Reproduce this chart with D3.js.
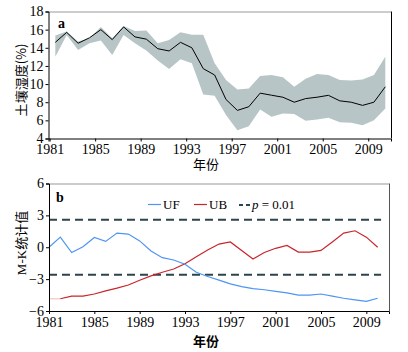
<!DOCTYPE html>
<html>
<head>
<meta charset="utf-8">
<script src="https://cdn.jsdelivr.net/npm/d3@7"></script>
<style>
  body { margin: 0; background: #fff; }
  svg { display: block; }
</style>
</head>
<body>
<svg id="chart" width="408" height="352" font-family="'Liberation Serif', 'Times New Roman', serif"></svg>
<script>
var serif = "'Liberation Serif', 'Times New Roman', serif";

// panel a: soil moisture (%), yearly mean and range
var years = d3.range(1981, 2011);
var moisture = [14.6, 15.7, 14.5, 15.1, 16.0, 14.9, 16.3, 15.2, 14.95, 13.9,
  13.65, 14.6, 14.0, 11.7, 11.0, 8.3, 7.1, 7.5, 9.0, 8.77,
  8.55, 8.0, 8.4, 8.55, 8.76, 8.15, 8.0, 7.65, 8.0, 9.7];
var upper = [15.35, 15.8, 14.7, 15.05, 16.3, 15.05, 16.4, 15.85, 15.9, 14.5,
  14.87, 15.7, 15.45, 15.45, 12.3, 10.45, 9.4, 9.5, 10.9, 11.0,
  10.75, 9.7, 10.6, 11.1, 11.0, 10.45, 10.4, 10.5, 11.0, 13.0];
var lower = [13.0, 15.4, 13.75, 14.5, 14.8, 13.2, 15.4, 14.5, 13.7, 12.6,
  11.65, 12.75, 12.3, 8.85, 8.7, 6.6, 4.9, 5.35, 7.2, 6.4,
  6.75, 6.7, 5.95, 6.1, 6.3, 5.8, 5.75, 5.45, 6.0, 7.3];

// panel b: Mann-Kendall statistics
var ufValues = [0, 0.95, -0.5, 0.05, 0.92, 0.55, 1.33, 1.24, 0.6, -0.35,
  -0.98, -1.2, -1.6, -2.35, -2.75, -3.1, -3.45, -3.7, -3.9, -4.0,
  -4.15, -4.3, -4.5, -4.5, -4.4, -4.6, -4.8, -4.95, -5.1, -4.8];
var ubValues = [-4.85, -4.85, -4.6, -4.6, -4.4, -4.1, -3.85, -3.55, -3.1, -2.7,
  -2.35, -2.05, -1.55, -0.9, -0.25, 0.3, 0.5, -0.3, -1.1, -0.5,
  -0.1, 0.17, -0.45, -0.45, -0.3, 0.5, 1.33, 1.55, 0.95, 0];
var critical = 2.58;

var xTicks = [1981, 1985, 1989, 1993, 1997, 2001, 2005, 2009];
var moistureTicks = [4, 6, 8, 10, 12, 14, 16, 18];
var mkTicks = [-6, -3, 0, 3, 6];

var svg = d3.select('#chart');

function frame(x, y, rightColor) {
  svg.append('line')
    .attr('x1', x.range()[0]).attr('x2', x.range()[1])
    .attr('y1', y.range()[1] + 0.5).attr('y2', y.range()[1] + 0.5)
    .attr('stroke', '#999');
  svg.append('line')
    .attr('x1', x.range()[1] + 0.5).attr('x2', x.range()[1] + 0.5)
    .attr('y1', y.range()[1]).attr('y2', y.range()[0])
    .attr('stroke', rightColor);
}

function axes(x, y, yticks) {
  svg.append('g')
    .attr('transform', 'translate(0,' + y.range()[0] + ')')
    .call(d3.axisBottom(x).tickValues(xTicks).tickFormat(d3.format('d')).tickSizeOuter(0).tickSize(3).tickPadding(3))
    .attr('font-family', serif).attr('font-size', 14);
  svg.append('g')
    .attr('transform', 'translate(' + x.range()[0] + ',0)')
    .call(d3.axisLeft(y).tickValues(yticks).tickSizeOuter(0).tickSize(3).tickPadding(2))
    .attr('font-family', serif).attr('font-size', 14);
}

// ---- panel a
var xa = d3.scaleLinear().domain([1980.9, 2011]).range([48.5, 391]);
var ya = d3.scaleLinear().domain([4, 18]).range([138.5, 11.5]);

svg.append('path')
  .datum(years)
  .attr('fill', '#b7c5c6')
  .attr('d', d3.area()
    .x(function (d) { return xa(d + 0.5); })
    .y0(function (d, i) { return ya(lower[i]); })
    .y1(function (d, i) { return ya(upper[i]); }));

svg.append('path')
  .datum(years)
  .attr('fill', 'none')
  .attr('stroke', '#000')
  .attr('stroke-width', 1)
  .attr('d', d3.line()
    .x(function (d) { return xa(d + 0.5); })
    .y(function (d, i) { return ya(moisture[i]); }));

frame(xa, ya, '#000');
axes(xa, ya, moistureTicks);

svg.append('text').attr('x', 58).attr('y', 28)
  .attr('font-size', 14).attr('font-weight', 'bold').text('a');

svg.append('text')
  .attr('transform', 'translate(26,80) rotate(-90)')
  .attr('text-anchor', 'middle')
  .attr('font-size', 13)
  .attr('font-family', "'Noto Sans CJK SC', 'Liberation Serif', serif")
  .text('土壤湿度(%)');

svg.append('text').attr('x', 206).attr('y', 169)
  .attr('text-anchor', 'middle').attr('font-size', 13)
  .attr('font-family', "'Noto Sans CJK SC', serif")
  .text('年份');

// ---- panel b
var xb = d3.scaleLinear().domain([1981, 2011]).range([49, 389]);
var yb = d3.scaleLinear().domain([-6, 6]).range([311, 183.5]);

[critical, -critical].forEach(function (v) {
  svg.append('line')
    .attr('x1', xb(1981)).attr('x2', xb(2010.3))
    .attr('y1', yb(v)).attr('y2', yb(v))
    .attr('stroke', '#2e434c')
    .attr('stroke-width', 2)
    .attr('stroke-dasharray', '8,5');
});

var lineB = d3.line()
  .x(function (d) { return xb(d[0]); })
  .y(function (d) { return yb(d[1]); });

var ub = years.map(function (d, i) { return [d, ubValues[i]]; });
var uf = years.map(function (d, i) { return [d, ufValues[i]]; });

svg.append('path').datum(ub.slice(0, 2))
  .attr('fill', 'none').attr('stroke', '#f2c4c4').attr('stroke-width', 1.2)
  .attr('d', lineB);
svg.append('path').datum(ub.slice(1))
  .attr('fill', 'none').attr('stroke', '#c9252b').attr('stroke-width', 1.2)
  .attr('d', lineB);
svg.append('path').datum(uf)
  .attr('fill', 'none').attr('stroke', '#4f95f2').attr('stroke-width', 1.2)
  .attr('d', lineB);

frame(xb, yb, '#555');
axes(xb, yb, mkTicks);

svg.append('text').attr('x', 56).attr('y', 202)
  .attr('font-size', 14).attr('font-weight', 'bold').text('b');

// legend
var legend = svg.append('g').attr('font-size', 13);
legend.append('line').attr('x1', 148).attr('x2', 161).attr('y1', 204.5).attr('y2', 204.5)
  .attr('stroke', '#4f95f2').attr('stroke-width', 1.2);
legend.append('text').attr('x', 163).attr('y', 209).text('UF');
legend.append('line').attr('x1', 194).attr('x2', 207).attr('y1', 204.5).attr('y2', 204.5)
  .attr('stroke', '#c9252b').attr('stroke-width', 1.2);
legend.append('text').attr('x', 209).attr('y', 209).text('UB');
legend.append('line').attr('x1', 239).attr('x2', 251).attr('y1', 205).attr('y2', 205)
  .attr('stroke', '#2e434c').attr('stroke-width', 2).attr('stroke-dasharray', '4,3');
var pt = legend.append('text').attr('x', 252).attr('y', 209);
pt.append('tspan').attr('font-style', 'italic').text('p');
pt.append('tspan').text(' = 0.01');

svg.append('text')
  .attr('transform', 'translate(26,243) rotate(-90)')
  .attr('text-anchor', 'middle')
  .attr('font-size', 13)
  .attr('font-family', "'Liberation Serif', 'Noto Sans CJK SC', serif")
  .text('M-K统计值');

svg.append('text').attr('x', 206).attr('y', 346)
  .attr('text-anchor', 'middle').attr('font-size', 13)
  .attr('font-weight', 'bold')
  .attr('font-family', "'Noto Sans CJK SC', serif")
  .text('年份');
</script>
</body>
</html>
